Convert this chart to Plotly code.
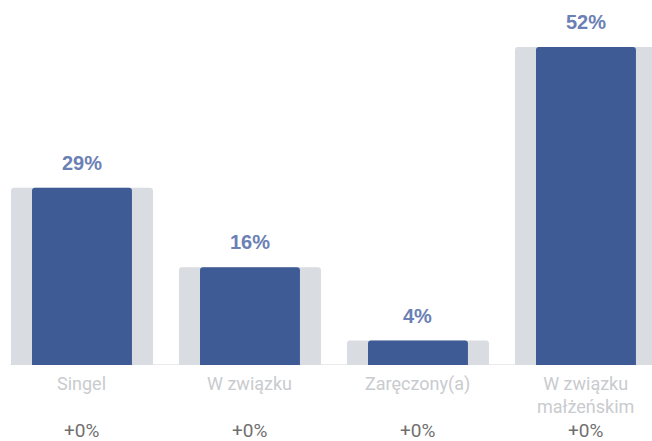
import plotly.graph_objects as go

categories = ["Singel", "W związku", "Zaręczony(a)", "W związku<br>małżeńskim"]
values = [29, 16, 4, 52]
changes = ["+0%", "+0%", "+0%", "+0%"]

BLUE = "#3f5b96"
SHADOW = "#d9dce1"
LABEL_BLUE = "#6b80b5"

x = list(range(len(categories)))

fig = go.Figure()
# wide pale bars sitting behind the main ones
fig.add_trace(go.Bar(x=x, y=values, width=0.845, marker=dict(color=SHADOW, line=dict(width=0)),
                     hoverinfo="skip", showlegend=False))
fig.add_trace(go.Bar(x=x, y=values, width=0.595, marker=dict(color=BLUE, line=dict(width=0)),
                     showlegend=False))

annotations = []
for i, (cat, v, ch) in enumerate(zip(categories, values, changes)):
    annotations.append(dict(x=i, y=v, xref="x", yref="y", text=f"{v}%", showarrow=False,
                            yanchor="bottom", yshift=12,
                            font=dict(family="Liberation Sans, Arial", size=20, color=LABEL_BLUE, weight="bold")))
    annotations.append(dict(x=i, y=0, xref="x", yref="y", text=cat, showarrow=False,
                            yanchor="top", yshift=-6,
                            font=dict(family="Roboto", size=18, color="#c9cbcf")))
    annotations.append(dict(x=i, y=0, xref="x", yref="y", text=ch, showarrow=False,
                            yanchor="middle", yshift=-65, borderpad=0,
                            font=dict(family="Roboto", size=19, color="#707070")))

fig.update_layout(
    width=652, height=441,
    margin=dict(l=0, r=0, t=0, b=76),
    paper_bgcolor="white", plot_bgcolor="white",
    barmode="overlay", barcornerradius=3,
    annotations=annotations,
    shapes=[dict(type="line", xref="paper", yref="y", x0=0.016, x1=1, y0=0, y1=0,
                 line=dict(color="#e3e4e6", width=1.5), layer="below")],
    xaxis=dict(range=[-0.488, 3.393], showticklabels=False, showgrid=False, zeroline=False,
               fixedrange=True),
    yaxis=dict(range=[0, 59.7], showticklabels=False, showgrid=False, zeroline=False,
               fixedrange=True),
)

fig.write_html("out.html")
